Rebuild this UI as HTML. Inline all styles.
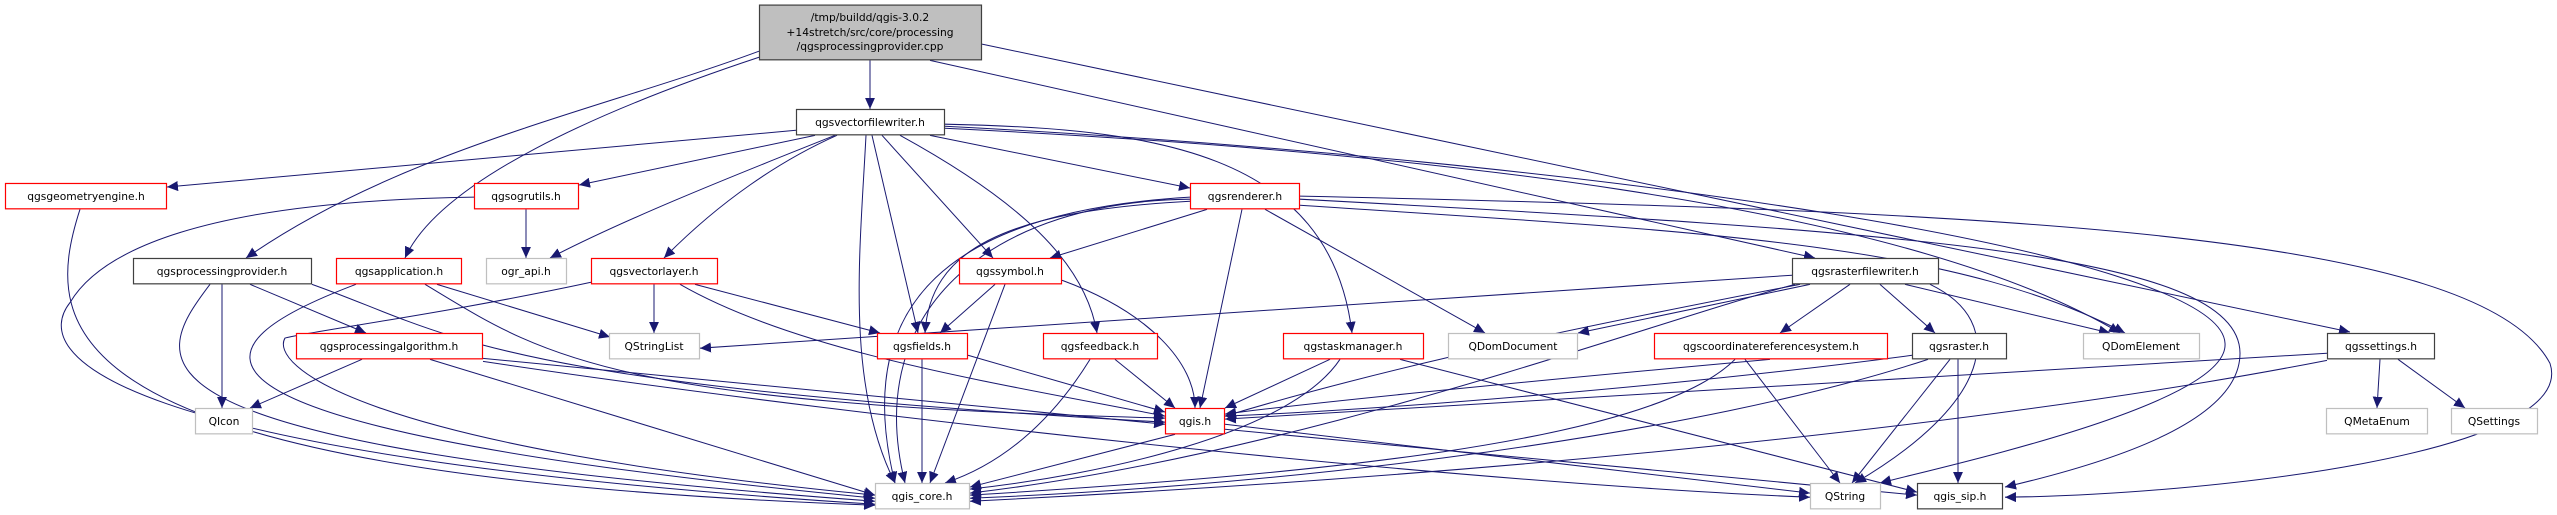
<!DOCTYPE html>
<html><head><meta charset="utf-8"><style>
html,body{margin:0;padding:0;background:#fff;}
svg{display:block;}
text{font-family:"DejaVu Sans","Liberation Sans",sans-serif;font-size:10.7px;fill:#000;}
</style></head><body>
<svg width="2557" height="515" viewBox="0 0 2557 515" xmlns="http://www.w3.org/2000/svg">
<defs>
<marker id="a" markerUnits="userSpaceOnUse" markerWidth="12" markerHeight="10" refX="11" refY="5" orient="auto">
<path d="M0,0 L11,5 L0,10 Z" fill="#191970"/>
</marker>
</defs>
<g transform="matrix(1,0,0,1.0136,0,-1.5)">
<g fill="none" stroke="#191970" stroke-width="1" marker-end="url(#a)">
<path d="M870 61 L870 109"/>
<path d="M759 52 C600 110,400 150,246 256"/>
<path d="M759 58 C600 110,440 180,405 256"/>
<path d="M930 61 L1815 256"/>
<path d="M982 45 L2350 329"/>
<path d="M796 130 L167 186"/>
<path d="M815 135 L579 184"/>
<path d="M835 135 C720 180,620 220,550 256"/>
<path d="M837 135 C780 160,720 200,664 256"/>
<path d="M866 135 C860 250,845 380,895 478"/>
<path d="M872 135 L918 330"/>
<path d="M882 135 L993 256"/>
<path d="M900 135 C1020 200,1085 260,1097 330"/>
<path d="M930 135 L1190 187"/>
<path d="M945 124 C1150 128,1330 150,1352 330"/>
<path d="M945 128 C1400 150,1900 200,2120 330"/>
<path d="M945 126 C1600 160,2220 250,2225 340 C2230 400,1950 460,1880 478"/>
<path d="M1300 198 C1900 230,2240 250,2240 350 C2240 420,2100 460,2005 482"/>
<path d="M1300 195 C2000 210,2480 230,2550 360 C2580 450,2200 490,2005 492"/>
<path d="M1300 204 C1700 230,1950 240,2125 330"/>
<path d="M1207 208 L1050 256"/>
<path d="M1190 200 C1000 210,930 250,925 330"/>
<path d="M1190 196 C950 210,850 300,895 478"/>
<path d="M1190 198 C1000 200,860 300,905 478"/>
<path d="M1242 208 L1200 404"/>
<path d="M1265 208 L1485 330"/>
<path d="M995 282 L940 330"/>
<path d="M1005 282 L930 478"/>
<path d="M1062 278 C1150 310,1195 360,1195 404"/>
<path d="M1115 356 L1175 404"/>
<path d="M1090 356 C1050 420,1000 460,945 478"/>
<path d="M922 356 L922 478"/>
<path d="M968 352 L1165 408"/>
<path d="M1330 356 L1225 404"/>
<path d="M1340 356 C1290 430,1100 470,970 484"/>
<path d="M1400 356 L1917 487"/>
<path d="M1792 273 L700 345"/>
<path d="M1810 282 L1578 330"/>
<path d="M1800 282 C1600 320,1400 360,1225 412"/>
<path d="M1795 282 C1650 320,1300 450,970 488"/>
<path d="M1850 282 L1780 330"/>
<path d="M1880 282 L1935 330"/>
<path d="M1905 282 L2110 330"/>
<path d="M1930 282 C2010 320,1990 400,1855 478"/>
<path d="M1770 356 C1500 380,1300 400,1225 410"/>
<path d="M1735 356 C1650 440,1300 470,970 490"/>
<path d="M1745 356 L1840 478"/>
<path d="M1912 352 C1700 380,1400 405,1225 412"/>
<path d="M1928 356 C1700 430,1300 480,970 493"/>
<path d="M1950 356 L1852 478"/>
<path d="M1958 356 L1958 478"/>
<path d="M2327 350 L1225 415"/>
<path d="M2327 357 C2000 420,1500 470,970 496"/>
<path d="M2380 356 L2377 404"/>
<path d="M2398 356 L2465 404"/>
<path d="M1175 430 L970 482"/>
<path d="M1225 420 L1810 488"/>
<path d="M1225 425 L1917 490"/>
<path d="M654 282 L654 330"/>
<path d="M695 282 L880 330"/>
<path d="M680 282 C800 350,1000 380,1165 412"/>
<path d="M591 280 C450 310,300 330,285 335 C270 360,350 440,875 490"/>
<path d="M437 282 L610 334"/>
<path d="M425 282 C540 350,600 400,1165 414"/>
<path d="M356 282 C200 340,110 420,875 493"/>
<path d="M222 282 L222 404"/>
<path d="M250 282 L366 330"/>
<path d="M312 282 C450 330,480 380,1165 418"/>
<path d="M210 282 C150 360,100 440,875 496"/>
<path d="M362 356 L250 404"/>
<path d="M483 355 L1165 420"/>
<path d="M430 356 L875 490"/>
<path d="M483 358 C900 420,1500 480,1810 492"/>
<path d="M526 208 L526 256"/>
<path d="M474 196 C200 200,100 250,70 300 C30 350,100 450,875 499"/>
<path d="M80 208 C40 330,50 470,875 500"/>
</g>
<g stroke-width="1.2">
<rect x="759.5" y="6.5" width="222" height="54" fill="#bfbfbf" stroke="#404040"/>
<rect x="796.5" y="109.5" width="148" height="25" fill="#fff" stroke="#404040"/>
<rect x="5.5" y="182.5" width="161" height="25" fill="#fff" stroke="#ff0000"/>
<rect x="474.5" y="182.5" width="104" height="25" fill="#fff" stroke="#ff0000"/>
<rect x="1190.5" y="182.5" width="109" height="25" fill="#fff" stroke="#ff0000"/>
<rect x="133.5" y="256.5" width="178" height="25" fill="#fff" stroke="#404040"/>
<rect x="336.5" y="256.5" width="125" height="25" fill="#fff" stroke="#ff0000"/>
<rect x="486.5" y="256.5" width="80" height="25" fill="#fff" stroke="#bfbfbf"/>
<rect x="591.5" y="256.5" width="126" height="25" fill="#fff" stroke="#ff0000"/>
<rect x="959.5" y="256.5" width="102" height="25" fill="#fff" stroke="#ff0000"/>
<rect x="1792.5" y="256.5" width="146" height="25" fill="#fff" stroke="#404040"/>
<rect x="296.5" y="330.5" width="186" height="25" fill="#fff" stroke="#ff0000"/>
<rect x="609.5" y="330.5" width="90" height="25" fill="#fff" stroke="#bfbfbf"/>
<rect x="877.5" y="330.5" width="90" height="25" fill="#fff" stroke="#ff0000"/>
<rect x="1043.5" y="330.5" width="114" height="25" fill="#fff" stroke="#ff0000"/>
<rect x="1283.5" y="330.5" width="140" height="25" fill="#fff" stroke="#ff0000"/>
<rect x="1448.5" y="330.5" width="129" height="25" fill="#fff" stroke="#bfbfbf"/>
<rect x="1654.5" y="330.5" width="233" height="25" fill="#fff" stroke="#ff0000"/>
<rect x="1912.5" y="330.5" width="94" height="25" fill="#fff" stroke="#404040"/>
<rect x="2083.5" y="330.5" width="116" height="25" fill="#fff" stroke="#bfbfbf"/>
<rect x="2327.5" y="330.5" width="107" height="25" fill="#fff" stroke="#404040"/>
<rect x="195.5" y="404.5" width="57" height="25" fill="#fff" stroke="#bfbfbf"/>
<rect x="1165.5" y="404.5" width="59" height="25" fill="#fff" stroke="#ff0000"/>
<rect x="2326.5" y="404.5" width="101" height="25" fill="#fff" stroke="#bfbfbf"/>
<rect x="2451.5" y="404.5" width="86" height="25" fill="#fff" stroke="#bfbfbf"/>
<rect x="875.5" y="478.5" width="94" height="25" fill="#fff" stroke="#bfbfbf"/>
<rect x="1810.5" y="478.5" width="70" height="25" fill="#fff" stroke="#bfbfbf"/>
<rect x="1917.5" y="478.5" width="85" height="25" fill="#fff" stroke="#404040"/>
</g>
<g text-anchor="middle">
<text x="870" y="22">/tmp/buildd/qgis-3.0.2</text>
<text x="870" y="37">+14stretch/src/core/processing</text>
<text x="870" y="51">/qgsprocessingprovider.cpp</text>
<text x="870" y="126">qgsvectorfilewriter.h</text>
<text x="86" y="199">qgsgeometryengine.h</text>
<text x="526" y="199">qgsogrutils.h</text>
<text x="1245" y="199">qgsrenderer.h</text>
<text x="222" y="273">qgsprocessingprovider.h</text>
<text x="399" y="273">qgsapplication.h</text>
<text x="526" y="273">ogr_api.h</text>
<text x="654" y="273">qgsvectorlayer.h</text>
<text x="1010" y="273">qgssymbol.h</text>
<text x="1865" y="273">qgsrasterfilewriter.h</text>
<text x="389" y="347">qgsprocessingalgorithm.h</text>
<text x="654" y="347">QStringList</text>
<text x="922" y="347">qgsfields.h</text>
<text x="1100" y="347">qgsfeedback.h</text>
<text x="1353" y="347">qgstaskmanager.h</text>
<text x="1513" y="347">QDomDocument</text>
<text x="1771" y="347">qgscoordinatereferencesystem.h</text>
<text x="1959" y="347">qgsraster.h</text>
<text x="2141" y="347">QDomElement</text>
<text x="2381" y="347">qgssettings.h</text>
<text x="224" y="421">QIcon</text>
<text x="1195" y="421">qgis.h</text>
<text x="2377" y="421">QMetaEnum</text>
<text x="2494" y="421">QSettings</text>
<text x="922" y="495">qgis_core.h</text>
<text x="1845" y="495">QString</text>
<text x="1960" y="495">qgis_sip.h</text>
</g>
</g>
</svg>
</body></html>
